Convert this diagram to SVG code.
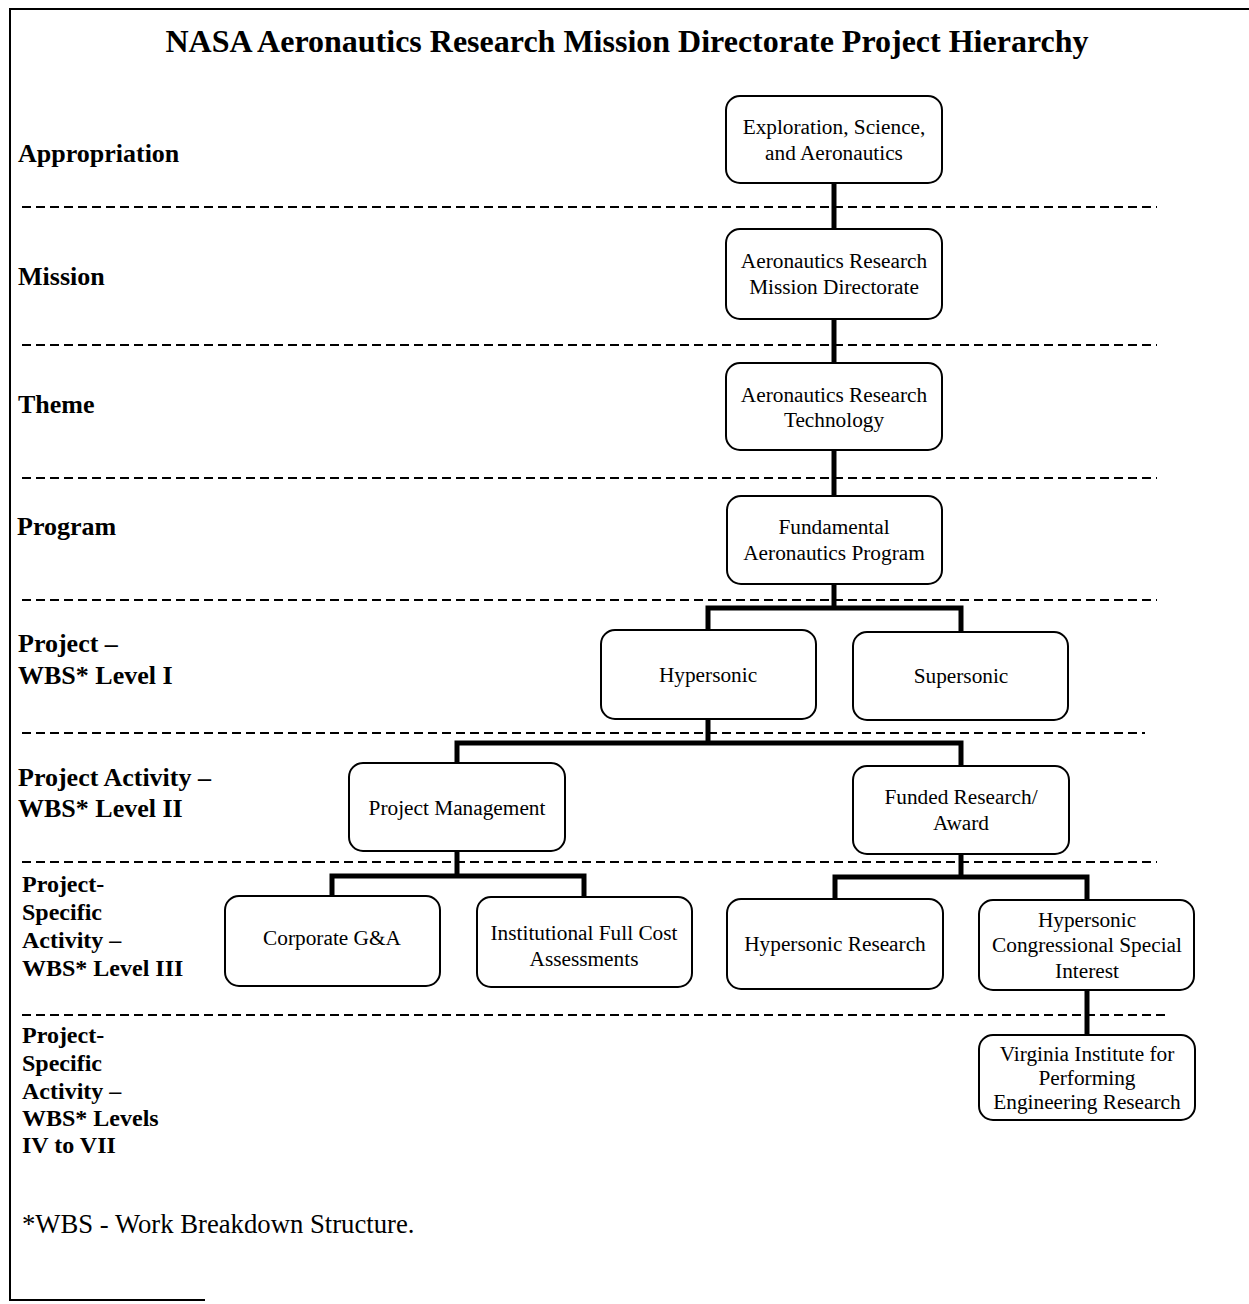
<svg xmlns="http://www.w3.org/2000/svg" width="1249" height="1304" viewBox="0 0 1249 1304">
<style>
.frame{stroke:#000;stroke-width:2;fill:none}
.dash{stroke:#000;stroke-width:2;stroke-dasharray:9,5;fill:none}
.node rect{fill:#fff;stroke:#000;stroke-width:2}
.node text{font-family:"Liberation Serif",serif;font-size:21.3px;text-anchor:middle;fill:#000}
.lvl{font-family:"Liberation Serif",serif;font-weight:bold;font-size:26px;fill:#000}
.lvl2{font-family:"Liberation Serif",serif;font-weight:bold;font-size:24px;fill:#000}
.conn{stroke:#000;stroke-width:5;fill:none}
</style>
<rect width="1249" height="1304" fill="#fff"/>
<g id="frame">
<line class="frame" x1="10" y1="9" x2="1249" y2="9"/>
<line class="frame" x1="10" y1="8" x2="10" y2="1301"/>
<line class="frame" x1="10" y1="1300" x2="205" y2="1300"/>
</g>
<text x="627" y="52" font-family="Liberation Serif,serif" font-weight="bold" font-size="32" text-anchor="middle">NASA Aeronautics Research Mission Directorate Project Hierarchy</text>
<g id="dividers">
<line class="dash" x1="22" y1="207" x2="1157" y2="207"/>
<line class="dash" x1="22" y1="345" x2="1157" y2="345"/>
<line class="dash" x1="22" y1="478" x2="1157" y2="478"/>
<line class="dash" x1="22" y1="600" x2="1157" y2="600"/>
<line class="dash" x1="22" y1="733" x2="1145" y2="733"/>
<line class="dash" x1="22" y1="862" x2="1157" y2="862"/>
<line class="dash" x1="22" y1="1015" x2="1168" y2="1015"/>
</g>
<g id="levels">
<text class="lvl" x="18" y="162">Appropriation</text>
<text class="lvl" x="18" y="285">Mission</text>
<text class="lvl" x="18" y="413">Theme</text>
<text class="lvl" x="17" y="535">Program</text>
<text class="lvl" x="18" y="652">Project –</text>
<text class="lvl" x="18" y="684">WBS* Level I</text>
<text class="lvl" x="18" y="786">Project Activity –</text>
<text class="lvl" x="18" y="817">WBS* Level II</text>
<text class="lvl2" x="22" y="892">Project-</text>
<text class="lvl2" x="22" y="920">Specific</text>
<text class="lvl2" x="22" y="948">Activity –</text>
<text class="lvl2" x="22" y="976">WBS* Level III</text>
<text class="lvl2" x="22" y="1043">Project-</text>
<text class="lvl2" x="22" y="1071">Specific</text>
<text class="lvl2" x="22" y="1099">Activity –</text>
<text class="lvl2" x="22" y="1126">WBS* Levels</text>
<text class="lvl2" x="22" y="1153">IV to VII</text>
</g>
<g id="connectors">
<line class="conn" x1="834" y1="183" x2="834" y2="229"/>
<line class="conn" x1="834" y1="319" x2="834" y2="363"/>
<line class="conn" x1="834" y1="450" x2="834" y2="496"/>
<polyline class="conn" points="834,584 834,608"/>
<polyline class="conn" points="708,630 708,608 961,608 961,632"/>
<polyline class="conn" points="708,719 708,743"/>
<polyline class="conn" points="457,763 457,743 961,743 961,766"/>
<polyline class="conn" points="457,851 457,876"/>
<polyline class="conn" points="332,896 332,876 584,876 584,897"/>
<polyline class="conn" points="961,854 961,877"/>
<polyline class="conn" points="835,899 835,877 1087,877 1087,900"/>
<line class="conn" x1="1087" y1="990" x2="1087" y2="1035"/>
</g>
<g id="n-appropriation" class="node"><rect x="726" y="96" width="216" height="87" rx="14"/><text x="834" y="134">Exploration, Science,</text><text x="834" y="160">and Aeronautics</text></g>
<g id="n-mission" class="node"><rect x="726" y="229" width="216" height="90" rx="14"/><text x="834" y="268">Aeronautics Research</text><text x="834" y="294">Mission Directorate</text></g>
<g id="n-theme" class="node"><rect x="726" y="363" width="216" height="87" rx="14"/><text x="834" y="402">Aeronautics Research</text><text x="834" y="427">Technology</text></g>
<g id="n-program" class="node"><rect x="727" y="496" width="215" height="88" rx="14"/><text x="834" y="534">Fundamental</text><text x="834" y="560">Aeronautics  Program</text></g>
<g id="n-hypersonic" class="node"><rect x="601" y="630" width="215" height="89" rx="14"/><text x="708" y="682">Hypersonic</text></g>
<g id="n-supersonic" class="node"><rect x="853" y="632" width="215" height="88" rx="14"/><text x="961" y="683">Supersonic</text></g>
<g id="n-pm" class="node"><rect x="349" y="763" width="216" height="88" rx="14"/><text x="457" y="815">Project Management</text></g>
<g id="n-funded" class="node"><rect x="853" y="766" width="216" height="88" rx="14"/><text x="961" y="804">Funded Research/</text><text x="961" y="830">Award</text></g>
<g id="n-corporate" class="node"><rect x="225" y="896" width="215" height="90" rx="14"/><text x="332" y="945">Corporate G&amp;A</text></g>
<g id="n-institutional" class="node"><rect x="477" y="897" width="215" height="90" rx="14"/><text x="584" y="940">Institutional Full Cost</text><text x="584" y="966">Assessments</text></g>
<g id="n-hresearch" class="node"><rect x="727" y="899" width="216" height="90" rx="14"/><text x="835" y="951">Hypersonic Research</text></g>
<g id="n-hcsi" class="node"><rect x="979" y="900" width="215" height="90" rx="14"/><text x="1087" y="927">Hypersonic</text><text x="1087" y="952">Congressional Special</text><text x="1087" y="978">Interest</text></g>
<g id="n-virginia" class="node"><rect x="979" y="1035" width="216" height="85" rx="14"/><text x="1087" y="1061">Virginia Institute for</text><text x="1087" y="1085">Performing</text><text x="1087" y="1109">Engineering Research</text></g>
<text x="22" y="1233" font-family="Liberation Serif,serif" font-size="26.7">*WBS - Work Breakdown Structure.</text>
</svg>
